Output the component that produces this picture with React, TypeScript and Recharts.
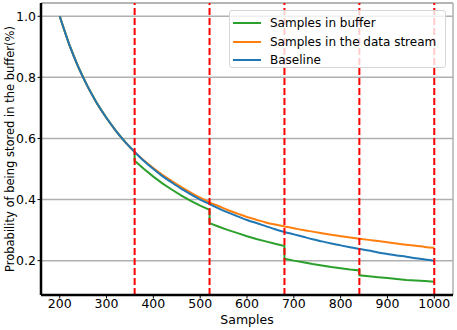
import React from 'react';
import { LineChart, Line, XAxis, YAxis, CartesianGrid, ReferenceLine, Legend } from 'recharts';

// x positions (Samples)
const samples = [200,220,240,260,280,300,320,340,360,380,400,420,440,460,480,500,520,540,560,580,600,620,640,660,680,700,720,740,760,780,800,820,840,860,880,900,920,940,960,980,1000];

// Baseline (blue)
const baselineProb = [1.0,0.909,0.833,0.769,0.714,0.667,0.625,0.588,0.556,0.526,0.5,0.476,0.455,0.435,0.417,0.4,0.385,0.37,0.357,0.345,0.333,0.323,0.313,0.303,0.294,0.286,0.278,0.27,0.263,0.256,0.25,0.244,0.238,0.233,0.227,0.222,0.217,0.213,0.208,0.204,0.2];

// Samples in the data stream (orange)
const streamProb = [1.0,0.909,0.833,0.769,0.714,0.667,0.625,0.588,0.556,0.528,0.503,0.48,0.46,0.441,0.423,0.406,0.391,0.378,0.365,0.354,0.343,0.334,0.325,0.318,0.312,0.306,0.3,0.295,0.29,0.285,0.28,0.276,0.272,0.268,0.264,0.26,0.256,0.252,0.249,0.245,0.242];

// Samples in buffer (green), with drops at the boundaries
const bufferX = [200,220,240,260,280,300,320,340,360,360,380,400,420,440,460,480,500,520,520,540,560,580,600,620,640,660,680,680,700,720,740,760,780,800,820,840,840,860,880,900,920,940,960,980,1000];
const bufferProb = [1.0,0.909,0.833,0.769,0.714,0.667,0.625,0.588,0.556,0.527,0.5,0.475,0.452,0.432,0.413,0.396,0.38,0.366,0.323,0.311,0.3,0.29,0.28,0.271,0.263,0.255,0.248,0.206,0.2,0.195,0.189,0.184,0.179,0.175,0.171,0.168,0.152,0.149,0.146,0.143,0.14,0.137,0.135,0.133,0.131];

// Red dashed boundaries
const boundaries = [360, 520, 680, 840, 1000];

const xTicks = [200, 300, 400, 500, 600, 700, 800, 900, 1000];
const yTicks = [0.2, 0.4, 0.6, 0.8, 1.0];

const seriesNames = ['Samples in buffer', 'Samples in the data stream', 'Baseline'];
const seriesColors = ['#2ca02c', '#ff7f0e', '#1f77b4'];

const X_DOMAIN: [number, number] = [160, 1040];
const Y_DOMAIN: [number, number] = [0.0875, 1.0435];

const baselineData = samples.map((x, i) => ({ x, y: baselineProb[i] }));
const streamData = samples.map((x, i) => ({ x, y: streamProb[i] }));
const bufferData = bufferX.map((x, i) => ({ x, y: bufferProb[i] }));

const FONT = 'DejaVu Sans, sans-serif';

const LegendBox = () => (
  <div
    style={{
      width: 217,
      height: 58,
      boxSizing: 'border-box',
      background: 'rgba(255,255,255,0.8)',
      border: '1px solid #d6d6d6',
      borderRadius: 3,
      fontFamily: FONT,
      fontSize: 12,
      color: '#000',
      paddingTop: 3,
    }}
  >
    {seriesNames.map((n, i) => (
      <div key={n} style={{ display: 'flex', alignItems: 'center', height: 18.5 }}>
        <div style={{ width: 28, height: 2, background: seriesColors[i], marginLeft: 3, marginRight: 9 }} />
        <span style={{ whiteSpace: 'nowrap' }}>{n}</span>
      </div>
    ))}
  </div>
);

export default function App() {
  return (
    <div style={{ position: 'absolute', left: 0, top: 0, background: '#fff' }}>
      <LineChart width={457} height={330} margin={{ top: 3, right: 4, bottom: 0, left: 0 }}>
        <CartesianGrid horizontal vertical={false} stroke="#b0b0b0" strokeWidth={1.5} />
        <XAxis
          type="number"
          dataKey="x"
          domain={X_DOMAIN}
          ticks={xTicks}
          allowDataOverflow
          height={35}
          tickSize={3.5}
          tickMargin={1}
          axisLine={{ stroke: '#000', strokeWidth: 2.5 }}
          tickLine={{ stroke: '#000' }}
          tick={{ fill: '#000', fontSize: 12.5, fontFamily: FONT }}
          label={{
            content: () => (
              <text x={247} y={323.5} textAnchor="middle" fontSize={12.5} fontFamily={FONT} fill="#000">
                Samples
              </text>
            ),
          }}
        />
        <YAxis
          type="number"
          domain={Y_DOMAIN}
          ticks={yTicks}
          allowDataOverflow
          width={41}
          tickSize={3.5}
          tickMargin={1.5}
          tickFormatter={(v: number) => v.toFixed(1)}
          axisLine={{ stroke: '#000', strokeWidth: 2.5 }}
          tickLine={{ stroke: '#000' }}
          tick={{ fill: '#000', fontSize: 12.5, fontFamily: FONT }}
          label={{
            content: () => (
              <text
                x={14}
                y={149}
                transform="rotate(-90 14 149)"
                textAnchor="middle"
                fontSize={11.5}
                fontFamily={FONT}
                fill="#000"
              >
                Probability of being stored in the buffer(%)
              </text>
            ),
          }}
        />
        <ReferenceLine y={Y_DOMAIN[1]} stroke="#b0b0b0" strokeWidth={1.5} ifOverflow="visible" />
        <ReferenceLine x={X_DOMAIN[1]} stroke="#b0b0b0" strokeWidth={1.5} ifOverflow="visible" />
        <Line data={bufferData} dataKey="y" type="linear" stroke={seriesColors[0]} strokeWidth={2} dot={false} isAnimationActive={false} name={seriesNames[0]} />
        <Line data={streamData} dataKey="y" type="monotone" stroke={seriesColors[1]} strokeWidth={2} dot={false} isAnimationActive={false} name={seriesNames[1]} />
        <Line data={baselineData} dataKey="y" type="monotone" stroke={seriesColors[2]} strokeWidth={2} dot={false} isAnimationActive={false} name={seriesNames[2]} />
        {boundaries.map((b) => (
          <ReferenceLine key={b} x={b} stroke="#ff0000" strokeWidth={2} strokeDasharray="7 3" />
        ))}
        <Legend
          layout="vertical"
          align="center"
          verticalAlign="middle"
          content={() => <LegendBox />}
          wrapperStyle={{ position: 'absolute', left: 229, top: 10, width: 217, height: 58, zIndex: 5 }}
        />
      </LineChart>
    </div>
  );
}
